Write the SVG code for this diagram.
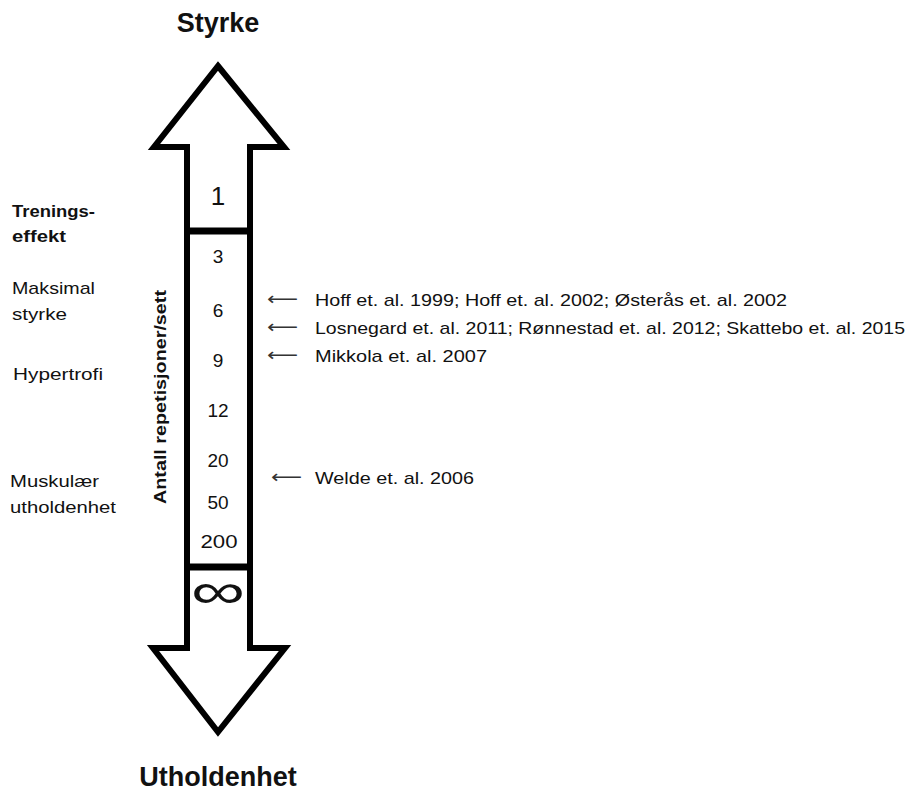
<svg xmlns="http://www.w3.org/2000/svg" width="907" height="791" viewBox="0 0 907 791">
<style>
text{font-family:"Liberation Sans",Arial,sans-serif;fill:#111}
.b{font-weight:bold}
.lbl{font-size:17px}
.num{font-size:19px;text-anchor:middle}
.ref{font-size:17px}
.arr{font-family:"DejaVu Sans",sans-serif;font-size:18px;fill:#333}
.outline{fill:#fff;stroke:#000;stroke-width:6;stroke-linejoin:miter}
</style>
<rect width="907" height="791" fill="#fff"/>
<g id="title-top"><text class="b" x="218" y="32" font-size="27" text-anchor="middle">Styrke</text></g>
<g id="title-bottom"><text class="b" x="218" y="786" font-size="27" text-anchor="middle">Utholdenhet</text></g>
<g id="scale-arrow">
<path class="outline" d="M218,66 L284,147 L250,147 L250,648 L285,648 L218,732 L153,648 L187,648 L187,147 L154,147 Z"/>
<line x1="187" y1="231" x2="250" y2="231" stroke="#000" stroke-width="7"/>
<line x1="187" y1="567" x2="250" y2="567" stroke="#000" stroke-width="7"/>
</g>
<g id="scale-values">
<text x="218" y="205" font-size="26" text-anchor="middle">1</text>
<text class="num" x="218" y="263">3</text>
<text class="num" x="218" y="317">6</text>
<text class="num" x="218" y="367">9</text>
<text class="num" x="218" y="417">12</text>
<text class="num" x="218" y="467">20</text>
<text class="num" x="218" y="509">50</text>
<text class="num" x="219" y="548" textLength="37" lengthAdjust="spacingAndGlyphs">200</text>
<text x="218" y="608" font-size="50" text-anchor="middle" font-family="Open Sans,Noto Sans,sans-serif" font-weight="300" textLength="54" lengthAdjust="spacingAndGlyphs">∞</text>
</g>
<g id="axis-label"><text class="b" transform="translate(166,397) rotate(-90)" font-size="17" text-anchor="middle" textLength="214" lengthAdjust="spacingAndGlyphs">Antall repetisjoner/sett</text></g>
<g id="effect-labels">
<text class="lbl b" x="12" y="217" textLength="83" lengthAdjust="spacingAndGlyphs">Trenings-</text>
<text class="lbl b" x="12" y="242" textLength="54" lengthAdjust="spacingAndGlyphs">effekt</text>
<text class="lbl" x="12" y="294" textLength="83" lengthAdjust="spacingAndGlyphs">Maksimal</text>
<text class="lbl" x="12" y="320" textLength="55" lengthAdjust="spacingAndGlyphs">styrke</text>
<text class="lbl" x="13" y="380" textLength="90" lengthAdjust="spacingAndGlyphs">Hypertrofi</text>
<text class="lbl" x="10" y="487" textLength="89" lengthAdjust="spacingAndGlyphs">Muskulær</text>
<text class="lbl" x="10" y="513" textLength="106" lengthAdjust="spacingAndGlyphs">utholdenhet</text>
</g>
<g id="references">
<text class="arr" x="267" y="305" textLength="31" lengthAdjust="spacingAndGlyphs">⟵</text>
<text class="ref" x="315" y="306" textLength="472" lengthAdjust="spacingAndGlyphs">Hoff et. al. 1999; Hoff et. al. 2002; Østerås et. al. 2002</text>
<text class="arr" x="267" y="333" textLength="31" lengthAdjust="spacingAndGlyphs">⟵</text>
<text class="ref" x="315" y="334" textLength="590" lengthAdjust="spacingAndGlyphs">Losnegard et. al. 2011; Rønnestad et. al. 2012; Skattebo et. al. 2015</text>
<text class="arr" x="267" y="361" textLength="31" lengthAdjust="spacingAndGlyphs">⟵</text>
<text class="ref" x="315" y="362" textLength="172" lengthAdjust="spacingAndGlyphs">Mikkola et. al. 2007</text>
<text class="arr" x="271" y="483" textLength="31" lengthAdjust="spacingAndGlyphs">⟵</text>
<text class="ref" x="315" y="484" textLength="159" lengthAdjust="spacingAndGlyphs">Welde et. al. 2006</text>
</g>
</svg>
